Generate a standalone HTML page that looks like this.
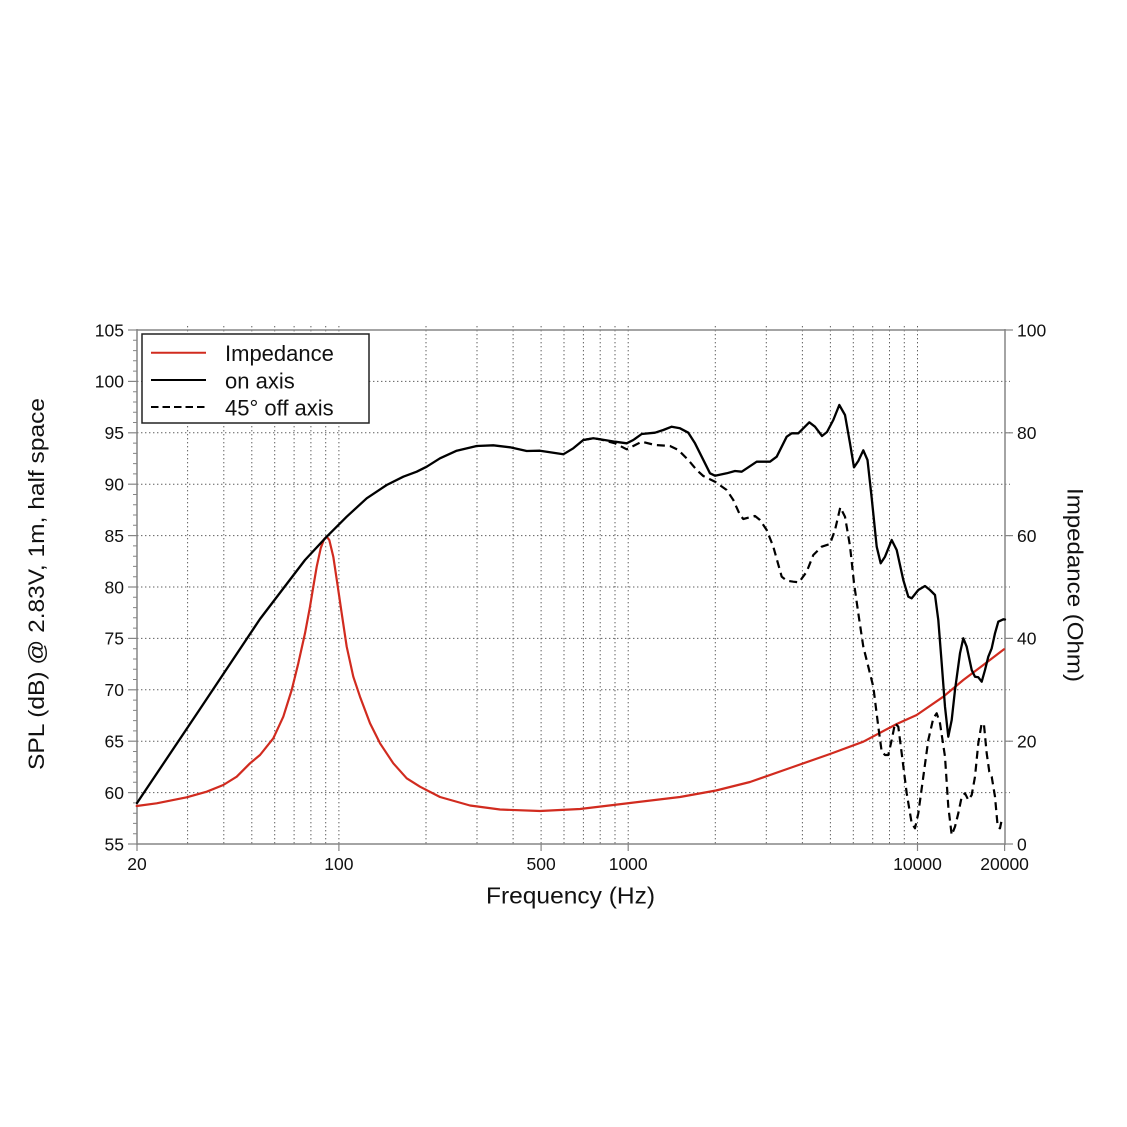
<!DOCTYPE html>
<html><head><meta charset="utf-8">
<style>
html,body{margin:0;padding:0;background:#fff;}
svg{display:block;}
text{font-family:"Liberation Sans",Arial,sans-serif;fill:#111;}
</style></head>
<body>
<svg width="1127" height="1127" viewBox="0 0 1127 1127" xmlns="http://www.w3.org/2000/svg">
<rect width="1127" height="1127" fill="#fff"/>
<!-- grid -->
<g stroke="#5e5e5e" stroke-width="1" stroke-dasharray="1.4,2.6" fill="none">
<line x1="137" y1="792.6" x2="1010" y2="792.6"/>
<line x1="137" y1="741.2" x2="1010" y2="741.2"/>
<line x1="137" y1="689.8" x2="1010" y2="689.8"/>
<line x1="137" y1="638.4" x2="1010" y2="638.4"/>
<line x1="137" y1="587" x2="1010" y2="587"/>
<line x1="137" y1="535.6" x2="1010" y2="535.6"/>
<line x1="137" y1="484.2" x2="1010" y2="484.2"/>
<line x1="137" y1="432.8" x2="1010" y2="432.8"/>
<line x1="137" y1="381.4" x2="1010" y2="381.4"/>
<line x1="187.6" y1="326" x2="187.6" y2="844"/>
<line x1="223.8" y1="326" x2="223.8" y2="844"/>
<line x1="251.8" y1="326" x2="251.8" y2="844"/>
<line x1="274.7" y1="326" x2="274.7" y2="844"/>
<line x1="294.1" y1="326" x2="294.1" y2="844"/>
<line x1="310.9" y1="326" x2="310.9" y2="844"/>
<line x1="325.7" y1="326" x2="325.7" y2="844"/>
<line x1="338.9" y1="326" x2="338.9" y2="844"/>
<line x1="426.0" y1="326" x2="426.0" y2="844"/>
<line x1="477.0" y1="326" x2="477.0" y2="844"/>
<line x1="513.1" y1="326" x2="513.1" y2="844"/>
<line x1="541.1" y1="326" x2="541.1" y2="844"/>
<line x1="564.0" y1="326" x2="564.0" y2="844"/>
<line x1="583.4" y1="326" x2="583.4" y2="844"/>
<line x1="600.2" y1="326" x2="600.2" y2="844"/>
<line x1="615.0" y1="326" x2="615.0" y2="844"/>
<line x1="628.2" y1="326" x2="628.2" y2="844"/>
<line x1="715.3" y1="326" x2="715.3" y2="844"/>
<line x1="766.3" y1="326" x2="766.3" y2="844"/>
<line x1="802.4" y1="326" x2="802.4" y2="844"/>
<line x1="830.4" y1="326" x2="830.4" y2="844"/>
<line x1="853.3" y1="326" x2="853.3" y2="844"/>
<line x1="872.7" y1="326" x2="872.7" y2="844"/>
<line x1="889.5" y1="326" x2="889.5" y2="844"/>
<line x1="904.3" y1="326" x2="904.3" y2="844"/>
<line x1="917.5" y1="326" x2="917.5" y2="844"/>
</g>
<!-- axes frame -->
<g stroke="#858585" stroke-width="1.5" fill="none">
<line x1="137" y1="330" x2="1005" y2="330"/>
<line x1="137" y1="844" x2="1005" y2="844"/>
<line x1="137" y1="329" x2="137" y2="845"/>
<line x1="1005" y1="329" x2="1005" y2="845"/>
</g>
<!-- left ticks -->
<g stroke="#858585" stroke-width="1.2">
<line x1="128" y1="844" x2="137" y2="844"/>
<line x1="128" y1="792.6" x2="137" y2="792.6"/>
<line x1="128" y1="741.2" x2="137" y2="741.2"/>
<line x1="128" y1="689.8" x2="137" y2="689.8"/>
<line x1="128" y1="638.4" x2="137" y2="638.4"/>
<line x1="128" y1="587" x2="137" y2="587"/>
<line x1="128" y1="535.6" x2="137" y2="535.6"/>
<line x1="128" y1="484.2" x2="137" y2="484.2"/>
<line x1="128" y1="432.8" x2="137" y2="432.8"/>
<line x1="128" y1="381.4" x2="137" y2="381.4"/>
<line x1="128" y1="330" x2="137" y2="330"/>
</g>
<g stroke="#858585" stroke-width="1">
<path d="M133 833.7H137M133 823.4H137M133 813.2H137M133 802.9H137M133 782.3H137M133 772H137M133 761.8H137M133 751.5H137M133 730.9H137M133 720.6H137M133 710.4H137M133 700.1H137M133 679.5H137M133 669.2H137M133 659H137M133 648.7H137M133 628.1H137M133 617.8H137M133 607.6H137M133 597.3H137M133 576.7H137M133 566.4H137M133 556.2H137M133 545.9H137M133 525.3H137M133 515H137M133 504.8H137M133 494.5H137M133 473.9H137M133 463.6H137M133 453.4H137M133 443.1H137M133 422.5H137M133 412.2H137M133 402H137M133 391.7H137M133 371.1H137M133 360.8H137M133 350.6H137M133 340.3H137"/>
</g>
<!-- right ticks -->
<g stroke="#858585" stroke-width="1.2">
<line x1="1005" y1="844" x2="1013" y2="844"/>
<line x1="1005" y1="741.2" x2="1013" y2="741.2"/>
<line x1="1005" y1="638.4" x2="1013" y2="638.4"/>
<line x1="1005" y1="535.6" x2="1013" y2="535.6"/>
<line x1="1005" y1="432.8" x2="1013" y2="432.8"/>
<line x1="1005" y1="330" x2="1013" y2="330"/>
</g>
<!-- bottom ticks -->
<g stroke="#858585" stroke-width="1.2">
<line x1="137" y1="844" x2="137" y2="851"/>
<line x1="338.9" y1="844" x2="338.9" y2="851"/>
<line x1="541.1" y1="844" x2="541.1" y2="851"/>
<line x1="628.2" y1="844" x2="628.2" y2="851"/>
<line x1="917.5" y1="844" x2="917.5" y2="851"/>
<line x1="1004.6" y1="844" x2="1004.6" y2="851"/>
</g>
<!-- left labels -->
<g font-size="17.5" text-anchor="end">
<text x="124" y="850.3">55</text>
<text x="124" y="798.9">60</text>
<text x="124" y="747.5">65</text>
<text x="124" y="696.1">70</text>
<text x="124" y="644.7">75</text>
<text x="124" y="593.3">80</text>
<text x="124" y="541.9">85</text>
<text x="124" y="490.5">90</text>
<text x="124" y="439.1">95</text>
<text x="124" y="387.7">100</text>
<text x="124" y="336.3">105</text>
</g>
<!-- right labels -->
<g font-size="17.5" text-anchor="start">
<text x="1017" y="850.3">0</text>
<text x="1017" y="747.5">20</text>
<text x="1017" y="644.7">40</text>
<text x="1017" y="541.9">60</text>
<text x="1017" y="439.1">80</text>
<text x="1017" y="336.3">100</text>
</g>
<!-- bottom labels -->
<g font-size="17.5" text-anchor="middle">
<text x="137" y="870">20</text>
<text x="338.9" y="870">100</text>
<text x="541.1" y="870">500</text>
<text x="628.2" y="870">1000</text>
<text x="917.5" y="870">10000</text>
<text x="1004.6" y="870">20000</text>
</g>
<!-- axis titles -->
<text x="570.5" y="903.5" font-size="23" text-anchor="middle" textLength="169" lengthAdjust="spacingAndGlyphs">Frequency (Hz)</text>
<text transform="translate(44,584) rotate(-90)" font-size="22" text-anchor="middle" textLength="372" lengthAdjust="spacingAndGlyphs">SPL (dB) @ 2.83V, 1m, half space</text>
<text transform="translate(1067.5,585) rotate(90)" font-size="22" text-anchor="middle" textLength="194" lengthAdjust="spacingAndGlyphs">Impedance (Ohm)</text>

<!-- curves -->
<polyline fill="none" stroke="#d12b1f" stroke-width="2.2" stroke-linejoin="round" stroke-linecap="round" points="136.7,806 156.7,803.3 186.7,797.3 206.7,791.7 223.3,785 236.7,776.7 250,763.3 260,755 273.3,738.3 283.3,716.7 291.7,690 298.3,663.3 305,633.3 310,606.7 313.3,586.7 316.7,566.7 320.7,548.3 324,539.3 326.7,536.7 329.3,540 333.3,556.7 337.3,583.3 341.7,613.3 346.7,646.7 353.3,676.7 360,696.7 370,723.3 380,743.3 393.3,763.3 406.7,778.3 420,786.7 440,797 470,805.5 500,809.5 540,811 580,809 630,803 680,797 716,790.5 750,782 790,768 830,754 863.3,741.7 896.7,724 916.7,715 943.3,696.7 963.3,680 983.3,665 1004,649.3"/>

<polyline fill="none" stroke="#000" stroke-width="2.2" stroke-linejoin="round" stroke-dasharray="8,5" points="583.3,440 593.3,438.3 600,439.3 615,443.3 626.7,449.3 633.3,446 641.7,441.7 655,445 670,446 678.3,450 688.3,460 696.7,470 703.3,476 715,481.7 726.7,490 733.3,500 740,515 743.3,519 755,516 760,520 766.7,530 773.3,546.7 781.7,576.7 786.7,580.7 793.3,581.7 799,582.3 806.7,571.7 813.3,555 821.7,546.7 830,544 835,530 840.3,507.3 845,516.7 850,546 854,583 858.3,613.3 863.3,646.7 868.3,666.7 873.3,686.7 878.3,726.7 881.7,751.7 885,755 888.3,755 891.7,740 895,723.3 898.3,726.7 901.7,753.3 906.7,793.3 911.7,823.3 915,828.3 918.3,813.3 923.3,776.7 928.3,740 933.3,718.3 936.7,713.3 940,723.3 945,756.7 948.3,806.7 951.7,835 955,826.7 958.3,813.3 961.7,796.7 965,793.3 968.3,800 971.7,795 975,776.7 978.3,743.3 981.7,723.3 984,725 986.7,753.3 989.3,771.7 991.7,776.7 995,796.7 997.7,826.7 1000,828.3 1001.7,820 1004,818.3"/>

<polyline fill="none" stroke="#000" stroke-width="2.3" stroke-linejoin="round" stroke-linecap="round" points="137,803 200,709 260,619 305,560 326.7,536.7 346.7,516.7 366.7,498.3 386.7,485 403.3,476.7 416.7,471.7 426.7,466.7 440,458.3 456.7,450.7 476.7,446 493.3,445.3 510,447.3 526.7,451 540,450.7 550,452.3 563.3,454.3 573.3,448.3 583.3,440 593.3,438.3 600,439.3 615,441.7 626.7,443.3 633.3,440 641.7,434 655,432.7 663.3,430 671.7,426.7 680,428.3 688.3,432.7 695,443.3 701.7,456.7 710,473.3 715,475.7 726.7,473.3 735,471 741.7,471.7 748.3,467.3 756.7,461.7 770,461.7 776.7,456.7 786.7,436.7 791.7,433.3 798.3,433.3 803.3,428.3 809.3,422.3 815,426.7 822,436 827,432 833.3,420 839.3,405 845,415 850,443.3 854,467.3 858.3,461 863.3,450.3 867.5,460 871.7,498 876.7,546.7 880.7,563.3 885,556.7 891.7,540 896.7,550 903.3,580 908.3,596.7 911.7,598.3 918.3,590 925,586 930,590 935,595 938.3,620 941.7,663.3 945,706.7 948.3,736.7 951.7,720 955,690 960,653.3 963.3,638.3 966.7,646.7 971.7,670 975,676.7 978.3,677.3 981.7,681.7 985,670 988.3,656.7 991.7,648.3 995,633.3 998.3,621.7 1003.3,619.3 1005,619.5"/>

<!-- legend -->
<rect x="142" y="334" width="227" height="89" fill="#fff" stroke="#222" stroke-width="1.5"/>
<line x1="151" y1="352.7" x2="206" y2="352.7" stroke="#d12b1f" stroke-width="2"/>
<line x1="151" y1="380" x2="206" y2="380" stroke="#000" stroke-width="2"/>
<line x1="151" y1="407" x2="206" y2="407" stroke="#000" stroke-width="2" stroke-dasharray="7.5,4"/>
<g font-size="22">
<text x="225" y="361">Impedance</text>
<text x="225" y="388.5">on axis</text>
<text x="225" y="415.5">45° off axis</text>
</g>
</svg>
</body></html>
